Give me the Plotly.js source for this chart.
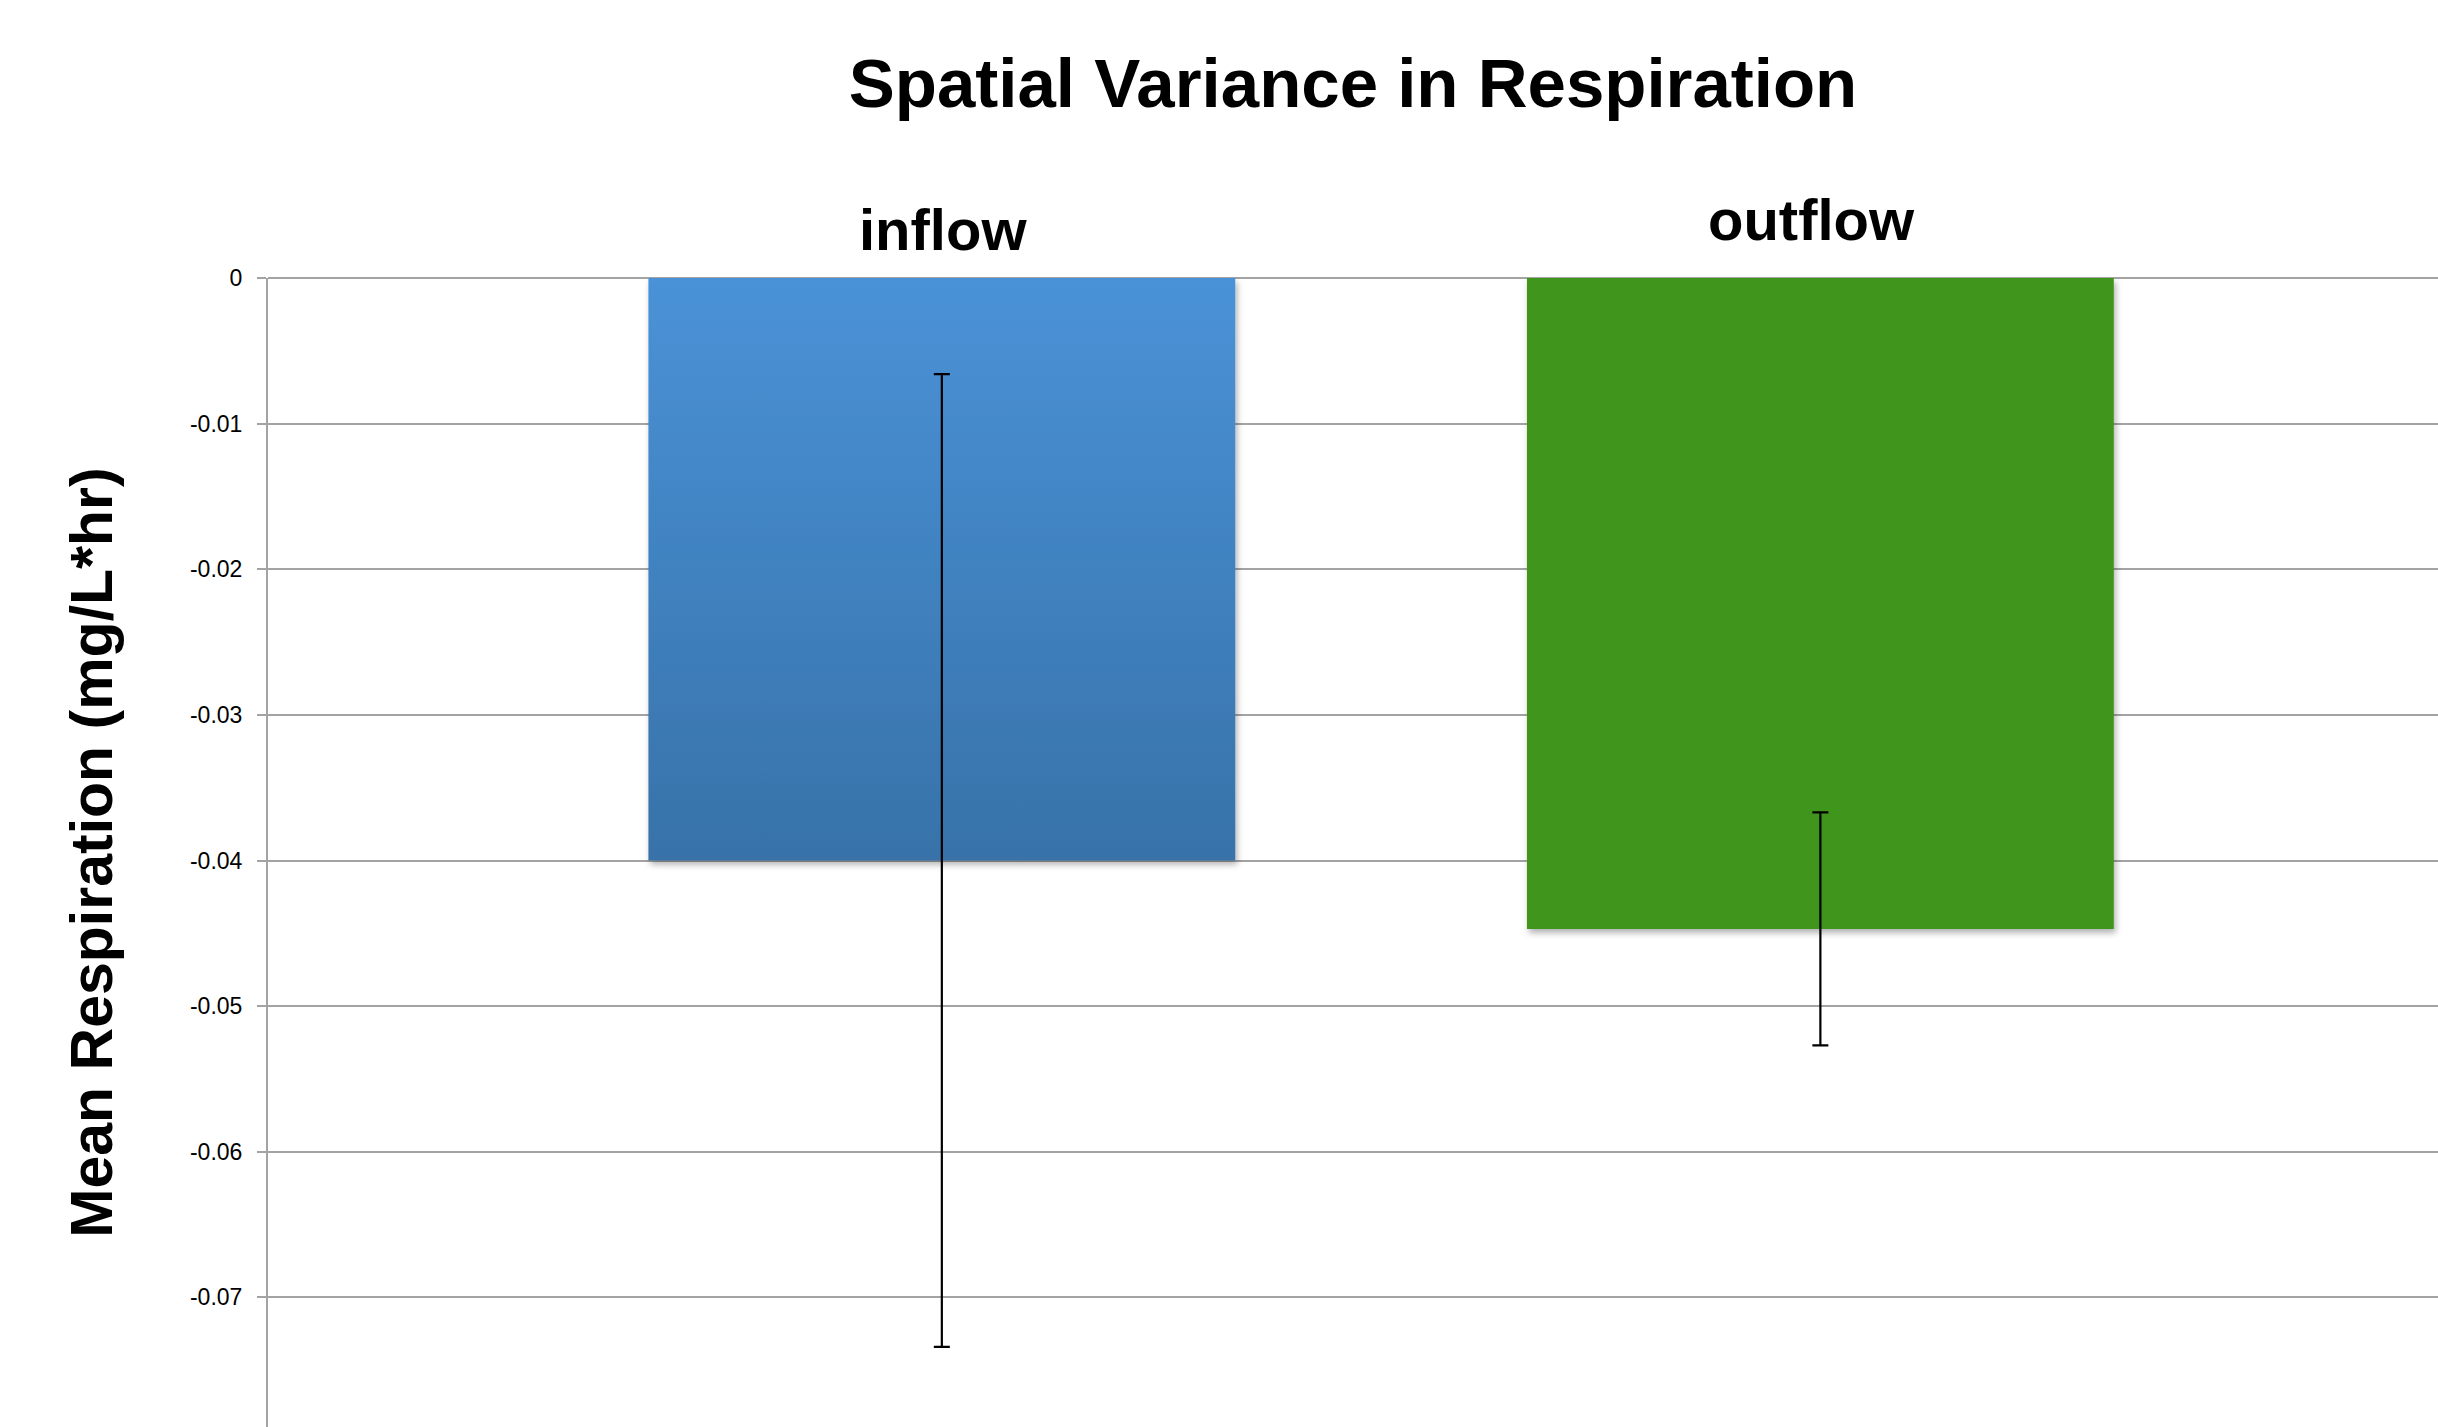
<!DOCTYPE html>
<html>
<head>
<meta charset="utf-8">
<script src="https://cdn.plot.ly/plotly-3.0.1.min.js"></script>
<style>
html,body{margin:0;padding:0;background:#fff;}
#chart{width:2438px;height:1427px;}
</style>
</head>
<body>
<div id="chart"></div>
<script>
// ---- data ----
const categories = ["inflow", "outflow"];
const meanRespiration = [-0.0400, -0.0447];
const errorValues = [0.0334, 0.0080];
const yTickValues = [0, -0.01, -0.02, -0.03, -0.04, -0.05, -0.06, -0.07];
const yTickLabels = ["0", "-0.01", "-0.02", "-0.03", "-0.04", "-0.05", "-0.06", "-0.07"];

// ---- styles ----
const barColors = ["#4483C4", "#41951A"];
const gridGray = "#a3a3a3";
const fontFamily = "'Liberation Sans', Arial, Helvetica, sans-serif";
const labelYShift = [49, 59];
const labelXShift = [1, -9];

const trace = {
  type: "bar",
  x: categories,
  y: meanRespiration,
  marker: { color: barColors, line: { width: 0 } },
  error_y: {
    type: "data",
    symmetric: true,
    array: errorValues,
    color: "#000",
    thickness: 2.2,
    width: 8
  },
  hoverinfo: "skip"
};

const annotations = categories.map((c, i) => ({
  x: c, xref: "x",
  y: 1, yref: "paper",
  yanchor: "middle",
  yshift: labelYShift[i],
  xshift: labelXShift[i],
  text: c,
  showarrow: false,
  font: { family: fontFamily, size: 58, color: "#000", weight: "bold" }
}));

const layout = {
  width: 2438,
  height: 1427,
  margin: { l: 268, r: 0, t: 278, b: 0, pad: 0 },
  paper_bgcolor: "#fff",
  plot_bgcolor: "#fff",
  showlegend: false,
  bargap: 0.332,
  title: {
    text: "<b>Spatial Variance in Respiration</b>",
    font: { family: fontFamily, size: 69, color: "#000" },
    xref: "paper", x: 0.5, xanchor: "center",
    yref: "container", y: 0.942, yanchor: "middle"
  },
  xaxis: {
    type: "category",
    range: [-0.767, 1.703],
    showticklabels: false,
    showgrid: false,
    zeroline: false,
    showline: false,
    ticks: ""
  },
  yaxis: {
    range: [-0.0789, 0],
    tickvals: yTickValues,
    ticktext: yTickLabels,
    tickfont: { family: fontFamily, size: 23, color: "#000" },
    ticks: "outside",
    ticklen: 9,
    tickwidth: 2,
    tickcolor: gridGray,
    ticklabelstandoff: 10,
    showline: true,
    linecolor: gridGray,
    linewidth: 2,
    showgrid: true,
    gridcolor: gridGray,
    gridwidth: 2,
    zeroline: true,
    zerolinecolor: gridGray,
    zerolinewidth: 2,
    title: {
      text: "<b>Mean Respiration (mg/L*hr)</b>",
      font: { family: fontFamily, size: 59, color: "#000" },
      standoff: 58
    }
  },
  annotations: annotations
};

Plotly.newPlot("chart", [trace], layout, { staticPlot: true, displayModeBar: false }).then(gd => {
  // Excel-style vertical gradient on the first bar plus a soft drop shadow
  const svg = gd.querySelector("svg.main-svg");
  const NS = "http://www.w3.org/2000/svg";
  let defs = svg.querySelector("defs");
  if (!defs) { defs = document.createElementNS(NS, "defs"); svg.insertBefore(defs, svg.firstChild); }

  const grad = document.createElementNS(NS, "linearGradient");
  grad.setAttribute("id", "inflowGrad");
  grad.setAttribute("x1", "0"); grad.setAttribute("y1", "0");
  grad.setAttribute("x2", "0"); grad.setAttribute("y2", "1");
  [["0", "#4A92D7"], ["1", "#3772A9"]].forEach(([o, c]) => {
    const s = document.createElementNS(NS, "stop");
    s.setAttribute("offset", o); s.setAttribute("stop-color", c);
    grad.appendChild(s);
  });
  defs.appendChild(grad);

  const filt = document.createElementNS(NS, "filter");
  filt.setAttribute("id", "barShadow");
  filt.setAttribute("x", "-5%"); filt.setAttribute("y", "-5%");
  filt.setAttribute("width", "115%"); filt.setAttribute("height", "115%");
  const sh = document.createElementNS(NS, "feDropShadow");
  sh.setAttribute("dx", "2"); sh.setAttribute("dy", "4");
  sh.setAttribute("stdDeviation", "3");
  sh.setAttribute("flood-color", "#000"); sh.setAttribute("flood-opacity", "0.3");
  filt.appendChild(sh);
  defs.appendChild(filt);

  const paths = gd.querySelectorAll(".barlayer .point path");
  paths.forEach((p, i) => {
    p.setAttribute("filter", "url(#barShadow)");
    if (i === 0) p.style.fill = "url(#inflowGrad)";
  });
});
</script>
</body>
</html>
